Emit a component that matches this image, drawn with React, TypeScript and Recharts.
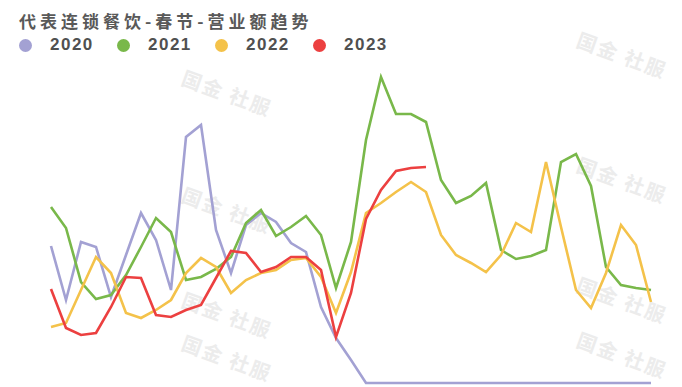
import { LineChart, Line, XAxis, YAxis } from 'recharts';

const days = [
  'D1', 'D2', 'D3', 'D4', 'D5', 'D6', 'D7', 'D8', 'D9', 'D10',
  'D11', 'D12', 'D13', 'D14', 'D15', 'D16', 'D17', 'D18', 'D19', 'D20',
  'D21', 'D22', 'D23', 'D24', 'D25', 'D26', 'D27', 'D28', 'D29', 'D30',
  'D31', 'D32', 'D33', 'D34', 'D35', 'D36', 'D37', 'D38', 'D39', 'D40', 'D41'
];

const y2020 = [
  137, 83, 141, 136, 86, 128, 170, 143, 93, 246,
  258, 153, 110, 158, 170, 161, 140, 131, 76, 45,
  23, 0, 0, 0, 0, 0, 0, 0, 0, 0,
  0, 0, 0, 0, 0, 0, 0, 0, 0, 0, 0
];

const y2021 = [
  176, 155, 101, 84, 88, 108, 136, 165, 151, 103,
  106, 114, 126, 160, 173, 147, 156, 167, 148, 95,
  141, 243, 306, 269, 269, 261, 203, 180, 187, 200,
  133, 124, 127, 133, 221, 229, 197, 116, 98, 95, 93
];

const y2022 = [
  56, 60, 93, 126, 110, 70, 65, 73, 83, 110,
  125, 116, 90, 103, 110, 113, 123, 125, 106, 70,
  111, 170, 180, 191, 201, 191, 148, 128, 120, 111,
  128, 160, 151, 221, 156, 93, 75, 110, 158, 138, 81
];

const y2023 = [
  94, 55, 48, 50, 76, 106, 105, 68, 66, 73,
  78, 105, 132, 130, 111, 116, 126, 126, 113, 46,
  90, 164, 193, 212, 215, 216
];

const series = [
  { key: 'y2020', name: '2020', color: '#a3a1d3' },
  { key: 'y2021', name: '2021', color: '#79b84a' },
  { key: 'y2022', name: '2022', color: '#f4c24a' },
  { key: 'y2023', name: '2023', color: '#ec4040' }
];

const data = days.map((d, i) => ({
  day: d,
  y2020: y2020[i],
  y2021: y2021[i],
  y2022: y2022[i],
  y2023: i < y2023.length ? y2023[i] : null
}));

// faint "国金 社服" watermark stamps
const marks = [
  { x: 180, y: 78 }, { x: 180, y: 195 }, { x: 180, y: 300 },
  { x: 575, y: 40 }, { x: 575, y: 165 }, { x: 575, y: 285 },
  { x: 180, y: 343 }, { x: 575, y: 340 }
];

export default function App() {
  return (
    <div style={{ position: 'absolute', left: 0, top: 0, width: 682, height: 387, background: '#fff', overflow: 'hidden', fontFamily: '"Noto Sans CJK SC", "Noto Sans", sans-serif' }}>
      {marks.map((m, i) => (
        <div
          key={i}
          style={{
            position: 'absolute', left: m.x, top: m.y, fontSize: 20, color: '#ececec',
            transform: 'rotate(20deg)', letterSpacing: 2, whiteSpace: 'nowrap', fontWeight: 700
          }}
        >
          国金 社服
        </div>
      ))}
      <div style={{ position: 'absolute', left: 19, top: 8, fontSize: 17, letterSpacing: 4, color: '#595959', fontWeight: 600 }}>
        代表连锁餐饮-春节-营业额趋势
      </div>
      {series.map((s, i) => (
        <div key={s.key} style={{ position: 'absolute', left: 19 + i * 98, top: 35, display: 'flex', alignItems: 'center' }}>
          <span style={{ display: 'inline-block', width: 13, height: 13, borderRadius: '50%', background: s.color }} />
          <span style={{ marginLeft: 18, fontSize: 17, fontWeight: 700, color: '#505050', letterSpacing: 1.5, fontFamily: 'Arial, "Liberation Sans", sans-serif' }}>
            {s.name}
          </span>
        </div>
      ))}
      <div style={{ position: 'absolute', left: 0, top: 0 }}>
        <LineChart width={682} height={387} data={data} margin={{ top: 73, right: 17, left: 38, bottom: 4 }}>
          <XAxis
            dataKey="day"
            height={0}
            tick={false}
            tickLine={false}
            padding={{ left: 13, right: 14 }}
            axisLine={{ stroke: '#d6d6d6', strokeWidth: 1.5 }}
          />
          <YAxis hide domain={[0, 310]} />
          {series.map((s) => (
            <Line
              key={s.key}
              type="linear"
              dataKey={s.key}
              name={s.name}
              stroke={s.color}
              strokeWidth={2.6}
              dot={false}
              connectNulls={false}
              isAnimationActive={false}
            />
          ))}
        </LineChart>
      </div>
    </div>
  );
}
